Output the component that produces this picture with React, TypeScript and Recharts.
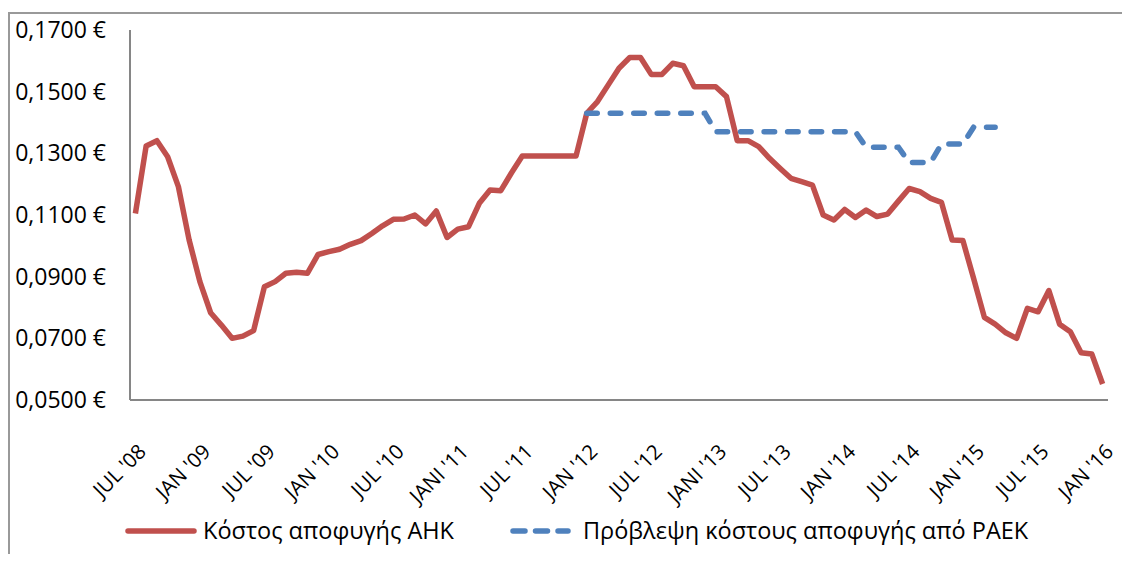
import React from "react";
import { LineChart, Line, XAxis, YAxis } from "recharts";

const MONTHS = ["JAN", "FEB", "MAR", "APR", "MAY", "JUN", "JUL", "AUG", "SEP", "OCT", "NOV", "DEC"];

// monthly categories JUL '08 .. JAN '16
const categories: string[] = [];
for (let k = 6; k <= 8 * 12; k++) {
  const yy = 8 + Math.floor(k / 12);
  categories.push(`${MONTHS[k % 12]} '${String(yy).padStart(2, "0")}`);
}

const tickLabels = [
  "JUL '08", "JAN '09", "JUL '09", "JAN '10", "JUL '10", "JANI '11", "JUL '11", "JAN '12",
  "JUL '12", "JANI '13", "JUL '13", "JAN '14", "JUL '14", "JAN '15", "JUL '15", "JAN '16",
];

const ahk = [
  0.1105, 0.1324, 0.1341, 0.1289, 0.1192, 0.1019, 0.0884, 0.0783, 0.0743, 0.07, 0.0707, 0.0725,
  0.0867, 0.0884, 0.0911, 0.0914, 0.0911, 0.0972, 0.0981, 0.0989, 0.1005, 0.1017, 0.104, 0.1065,
  0.1086, 0.1087, 0.11, 0.1071, 0.1113, 0.1027, 0.1054, 0.1062, 0.1138, 0.1181, 0.1179, 0.1237,
  0.1291, 0.1291, 0.1291, 0.1291, 0.1291, 0.1291, 0.143, 0.1468, 0.1522, 0.1576, 0.1611, 0.1611,
  0.1556, 0.1556, 0.1592, 0.1584, 0.1516, 0.1516, 0.1516, 0.1484, 0.1341, 0.1341, 0.1322, 0.1284,
  0.1251, 0.1219, 0.1208, 0.1197, 0.11, 0.1084, 0.1118, 0.1092, 0.1116, 0.1095, 0.1103, 0.1145,
  0.1186, 0.1176, 0.1154, 0.1141, 0.1019, 0.1017, 0.0894, 0.0768, 0.0746, 0.0718, 0.07, 0.0797,
  0.0786, 0.0855, 0.0746, 0.0721, 0.0653, 0.0649, 0.0552,
];

const paek = [
  null, null, null, null, null, null, null, null, null, null, null, null,
  null, null, null, null, null, null, null, null, null, null, null, null,
  null, null, null, null, null, null, null, null, null, null, null, null,
  null, null, null, null, null, null, 0.143, 0.143, 0.143, 0.143, 0.143, 0.143,
  0.143, 0.143, 0.143, 0.143, 0.143, 0.143, 0.137, 0.137, 0.137, 0.137, 0.137, 0.137,
  0.137, 0.137, 0.137, 0.137, 0.137, 0.137, 0.137, 0.137, 0.132, 0.132, 0.132, 0.132,
  0.127, 0.127, 0.127, 0.133, 0.133, 0.133, 0.1385, 0.1385, 0.1385, null, null, null,
  null, null, null, null, null, null, null,
];

const yTicks = [0.05, 0.07, 0.09, 0.11, 0.13, 0.15, 0.17];

const data = categories.map((name, i) => ({ name, ahk: ahk[i], paek: paek[i] }));

const RED = "#C0504D";
const BLUE = "#4F81BD";
const GREY = "#868686";
const FONT = "'Open Sans', sans-serif";

const XTick = ({ x, y, payload }: any) => {
  const idx = categories.indexOf(payload.value);
  const label = tickLabels[Math.round(idx / 6)];
  const ax = x + 12;
  const ay = y + 45;
  return (
    <text
      x={ax}
      y={ay}
      textAnchor="end"
      transform={`rotate(-45 ${ax} ${ay})`}
      fontSize={20.5}
      fontFamily={FONT}
      fill="#000"
    >
      {label}
    </text>
  );
};

export default function App() {
  return (
    <div style={{ position: "relative", width: 1130, height: 562, margin: -8, fontFamily: FONT }}>
      {/* chart frame, cropped on the right and bottom */}
      <div style={{ position: "absolute", left: 8, top: 12, right: 0, bottom: 0, borderLeft: `2px solid #999`, borderTop: `2px solid #999` }} />
      <LineChart width={1130} height={562} data={data} margin={{ top: 30, right: 22, left: 0, bottom: 0 }}>
        <XAxis
          dataKey="name"
          interval={5}
          height={162}
          padding={{ left: 5.4, right: 5.4 }}
          axisLine={{ stroke: GREY, strokeWidth: 2 }}
          tickLine={false}
          tick={<XTick />}
        />
        <YAxis
          domain={[0.05, 0.17]}
          ticks={yTicks}
          width={130}
          axisLine={{ stroke: GREY, strokeWidth: 2 }}
          tickLine={false}
          tickMargin={18}
          tick={{ fill: "#000", fontSize: 23, fontFamily: FONT }}
          tickFormatter={(v: number) => `${v.toFixed(4).replace(".", ",")} €`}
        />
        <Line
          dataKey="ahk"
          stroke={RED}
          strokeWidth={5.5}
          dot={false}
          strokeLinejoin="round"
          isAnimationActive={false}
        />
        <Line
          dataKey="paek"
          stroke={BLUE}
          strokeWidth={5.5}
          strokeDasharray="10.5 13"
          strokeLinecap="round"
          dot={false}
          isAnimationActive={false}
        />
      </LineChart>
      {/* legend */}
      <svg style={{ position: "absolute", left: 0, top: 510 }} width={1130} height={42}>
        <line x1={128} y1={21} x2={194} y2={21} stroke={RED} strokeWidth={5.5} strokeLinecap="round" />
        <text x={203} y={21} dy="0.35em" fontSize={23.5} fontFamily={FONT} fill="#000">
          Κόστος αποφυγής ΑΗΚ
        </text>
        <line x1={513} y1={21} x2={568} y2={21} stroke={BLUE} strokeWidth={5.5} strokeDasharray="12 10.5" strokeLinecap="round" />
        <text x={583} y={21} dy="0.35em" fontSize={23.5} fontFamily={FONT} fill="#000">
          Πρόβλεψη κόστους αποφυγής από PAEK
        </text>
      </svg>
    </div>
  );
}
